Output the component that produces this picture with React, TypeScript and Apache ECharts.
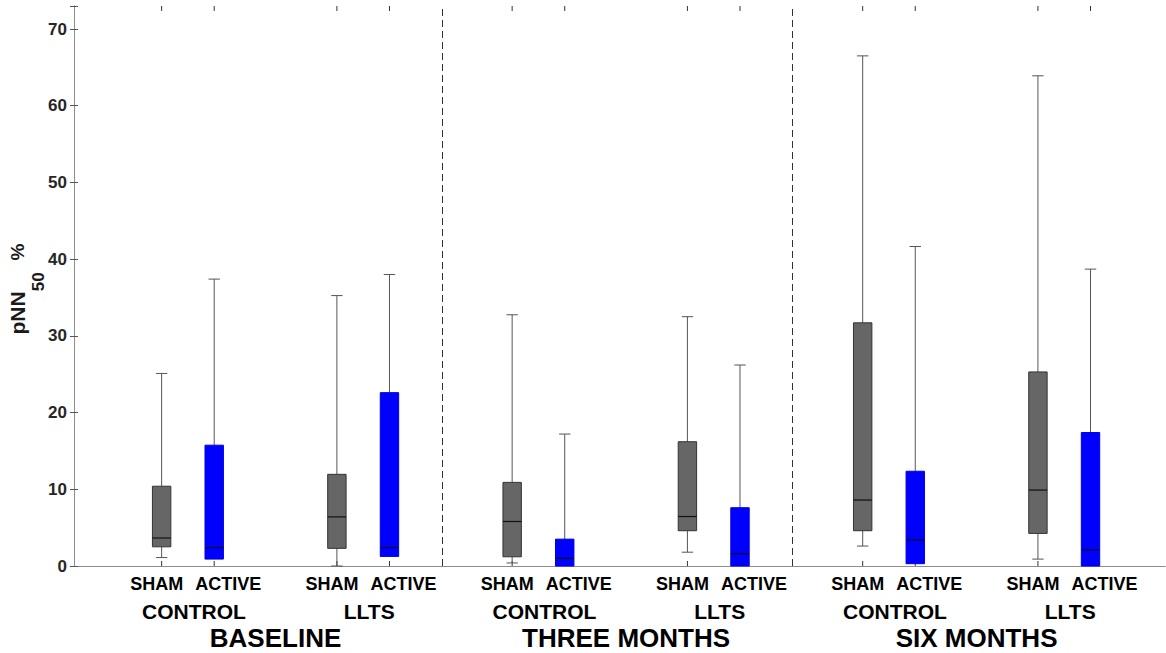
import React, { useEffect, useRef } from "react";
import * as echarts from "echarts";

// box positions along the x axis (sham, active pairs)
const positions = [1, 1.6, 3, 3.6, 5, 5.6, 7, 7.6, 9, 9.6, 11, 11.6];
const treatments = ["SHAM", "ACTIVE"];
const arms = ["CONTROL", "LLTS"];
const periods = ["BASELINE", "THREE MONTHS", "SIX MONTHS"];

// five-number summaries, pNN50 %
const whiskerLow = [1.1, 0.9, 0, 1.25, 0.4, 0, 1.8, 0, 2.6, 0.3, 0.9, 0];
const q1 = [2.5, 0.9, 2.3, 1.25, 1.2, 0, 4.6, 0, 4.6, 0.3, 4.25, 0];
const median = [3.65, 2.4, 6.4, 2.4, 5.8, 1.0, 6.45, 1.6, 8.6, 3.4, 9.9, 2.1];
const q3 = [10.4, 15.75, 11.95, 22.6, 10.9, 3.5, 16.2, 7.6, 31.7, 12.35, 25.3, 17.4];
const whiskerHigh = [25.1, 37.4, 35.25, 38.0, 32.75, 17.2, 32.5, 26.2, 66.5, 41.65, 63.9, 38.7];

const separators = [4.2, 8.2];
const yTicks = [0, 10, 20, 30, 40, 50, 60, 70];

const FONT = "'Liberation Sans', Arial, sans-serif";
const Y_MAX = 73;
const X_MAX = 12.45;
const BOX_W = 0.21;
const CAP_W = 0.13;

const App: React.FC = () => {
  const chartRef = useRef<HTMLDivElement>(null);

  useEffect(() => {
    document.body.style.margin = "0";
    if (!chartRef.current) return;
    const chart = echarts.init(chartRef.current, null, { renderer: "svg" });

    const boxData = positions.map((p, i) => [
      p,
      whiskerLow[i],
      q1[i],
      median[i],
      q3[i],
      whiskerHigh[i],
      i % 2,
    ]);

    // label rows: [x, level, text index]
    const labelData: number[][] = [];
    for (let k = 0; k < positions.length / 2; k++) {
      labelData.push([(positions[2 * k] + positions[2 * k + 1]) / 2, 1, k % 2]);
    }
    for (let g = 0; g < periods.length; g++) {
      const s = positions.slice(g * 4, g * 4 + 4);
      labelData.push([(s[0] + s[3]) / 2, 2, g]);
    }

    chart.setOption({
      animation: false,
      grid: { left: 74, right: 1, top: 6, bottom: 87, outerBoundsMode: "none" },
      xAxis: [
        {
          type: "value",
          min: 0,
          max: X_MAX,
          axisLine: { show: true, onZero: false, lineStyle: { color: "#8c8c8c" } },
          axisTick: { show: false },
          axisLabel: { show: false },
          splitLine: { show: false },
        },
        {
          type: "value",
          position: "top",
          min: 0,
          max: X_MAX,
          axisLine: { show: true, lineStyle: { color: "#8c8c8c" } },
          axisTick: { show: false },
          axisLabel: { show: false },
          splitLine: { show: false },
        },
      ],
      yAxis: [
        {
          type: "value",
          min: 0,
          max: Y_MAX,
          interval: 10,
          name: "{a|pNN}{b|50}{c|%}",
          nameLocation: "middle",
          nameRotate: 90,
          nameGap: 27,
          nameMoveOverlap: false,
          nameTextStyle: {
            padding: [0, 6, 0, 0],
            rich: {
              a: { fontSize: 21, fontWeight: "bold", fontFamily: FONT, color: "#1a1a1a", verticalAlign: "middle" },
              b: {
                fontSize: 17,
                fontWeight: "bold",
                fontFamily: FONT,
                color: "#1a1a1a",
                verticalAlign: "middle",
                padding: [42, 0, 0, 0],
              },
              c: {
                fontSize: 19,
                fontWeight: "bold",
                fontFamily: FONT,
                color: "#1a1a1a",
                verticalAlign: "middle",
                padding: [0, 0, 0, 12],
              },
            },
          },
          axisLine: { show: true, lineStyle: { color: "#8c8c8c" } },
          axisTick: { show: true, inside: true, length: 4, lineStyle: { color: "#555" } },
          axisLabel: {
            margin: 7,
            color: "#262626",
            fontSize: 17,
            fontWeight: "bold",
            fontFamily: FONT,
            formatter: (v: number) => (yTicks.includes(v) ? String(v) : ""),
          },
          splitLine: { show: false },
        },
        {
          type: "value",
          position: "right",
          min: 0,
          max: Y_MAX,
          interval: 10,
          axisLine: { show: true, lineStyle: { color: "#8c8c8c" } },
          axisTick: { show: true, inside: true, length: 4, lineStyle: { color: "#555" } },
          axisLabel: { show: false },
          splitLine: { show: false },
        },
      ],
      series: [
        {
          type: "custom",
          name: "boxes",
          data: boxData,
          encode: { x: 0, y: [1, 2, 3, 4, 5] },
          renderItem: (params: any, api: any) => {
            const x = api.value(0);
            const active = api.value(6) === 1;
            const cLow = api.coord([x, api.value(1)]);
            const cQ1 = api.coord([x, api.value(2)]);
            const cMed = api.coord([x, api.value(3)]);
            const cQ3 = api.coord([x, api.value(4)]);
            const cHigh = api.coord([x, api.value(5)]);
            const cBase = api.coord([x, 0]);
            const cTop = api.coord([x, Y_MAX]);
            const cx = cLow[0];
            const half = api.size([BOX_W, 0])[0] / 2;
            const cap = api.size([CAP_W, 0])[0] / 2;
            const whisker = { stroke: "#555", lineWidth: 1 };
            const children: any[] = [
              { type: "line", shape: { x1: cx, y1: cBase[1], x2: cx, y2: cBase[1] - 5 }, style: { stroke: "#333", lineWidth: 1 } },
              { type: "line", shape: { x1: cx, y1: cTop[1], x2: cx, y2: cTop[1] + 5 }, style: { stroke: "#333", lineWidth: 1 } },
              { type: "line", shape: { x1: cx, y1: cQ3[1], x2: cx, y2: cHigh[1] }, style: whisker },
              { type: "line", shape: { x1: cx - cap, y1: cHigh[1], x2: cx + cap, y2: cHigh[1] }, style: whisker },
            ];
            if (api.value(1) < api.value(2)) {
              children.push(
                { type: "line", shape: { x1: cx, y1: cQ1[1], x2: cx, y2: cLow[1] }, style: whisker },
                { type: "line", shape: { x1: cx - cap, y1: cLow[1], x2: cx + cap, y2: cLow[1] }, style: whisker }
              );
            }
            children.push(
              {
                type: "rect",
                shape: { x: cx - half, y: cQ3[1], width: half * 2, height: cQ1[1] - cQ3[1] },
                style: {
                  fill: active ? "#0000ff" : "#666666",
                  stroke: active ? "#0000e0" : "#333333",
                  lineWidth: 1,
                },
              },
              {
                type: "line",
                shape: { x1: cx - half, y1: cMed[1], x2: cx + half, y2: cMed[1] },
                style: { stroke: "#111", lineWidth: 1.2 },
              },
              {
                type: "text",
                x: cx + (active ? 14 : -5),
                y: cBase[1] + 18,
                style: {
                  text: treatments[api.value(6)],
                  font: `bold 18px ${FONT}`,
                  fill: "#000",
                  align: "center",
                  verticalAlign: "middle",
                },
              }
            );
            return { type: "group", children };
          },
          markLine: {
            silent: true,
            symbol: ["none", "none"],
            label: { show: false },
            lineStyle: { type: [7, 4], color: "#333", width: 1 },
            data: separators.map((v) => ({ xAxis: v })),
          },
        },
        {
          type: "custom",
          name: "labels",
          data: labelData,
          encode: { x: 0 },
          renderItem: (params: any, api: any) => {
            const level = api.value(1);
            const idx = api.value(2);
            const c = api.coord([api.value(0), 0]);
            const text = level === 1 ? arms[idx] : periods[idx];
            return {
              type: "text",
              x: c[0] + (level === 1 ? 6 : 0),
              y: c[1] + (level === 1 ? 45 : 72),
              style: {
                text,
                font: `bold ${level === 1 ? 21 : 26}px ${FONT}`,
                fill: "#000",
                align: "center",
                verticalAlign: "middle",
              },
            };
          },
        },
      ],
    });

    return () => {
      chart.dispose();
    };
  }, []);

  return <div ref={chartRef} style={{ width: 1166, height: 653 }} />;
};

export default App;
